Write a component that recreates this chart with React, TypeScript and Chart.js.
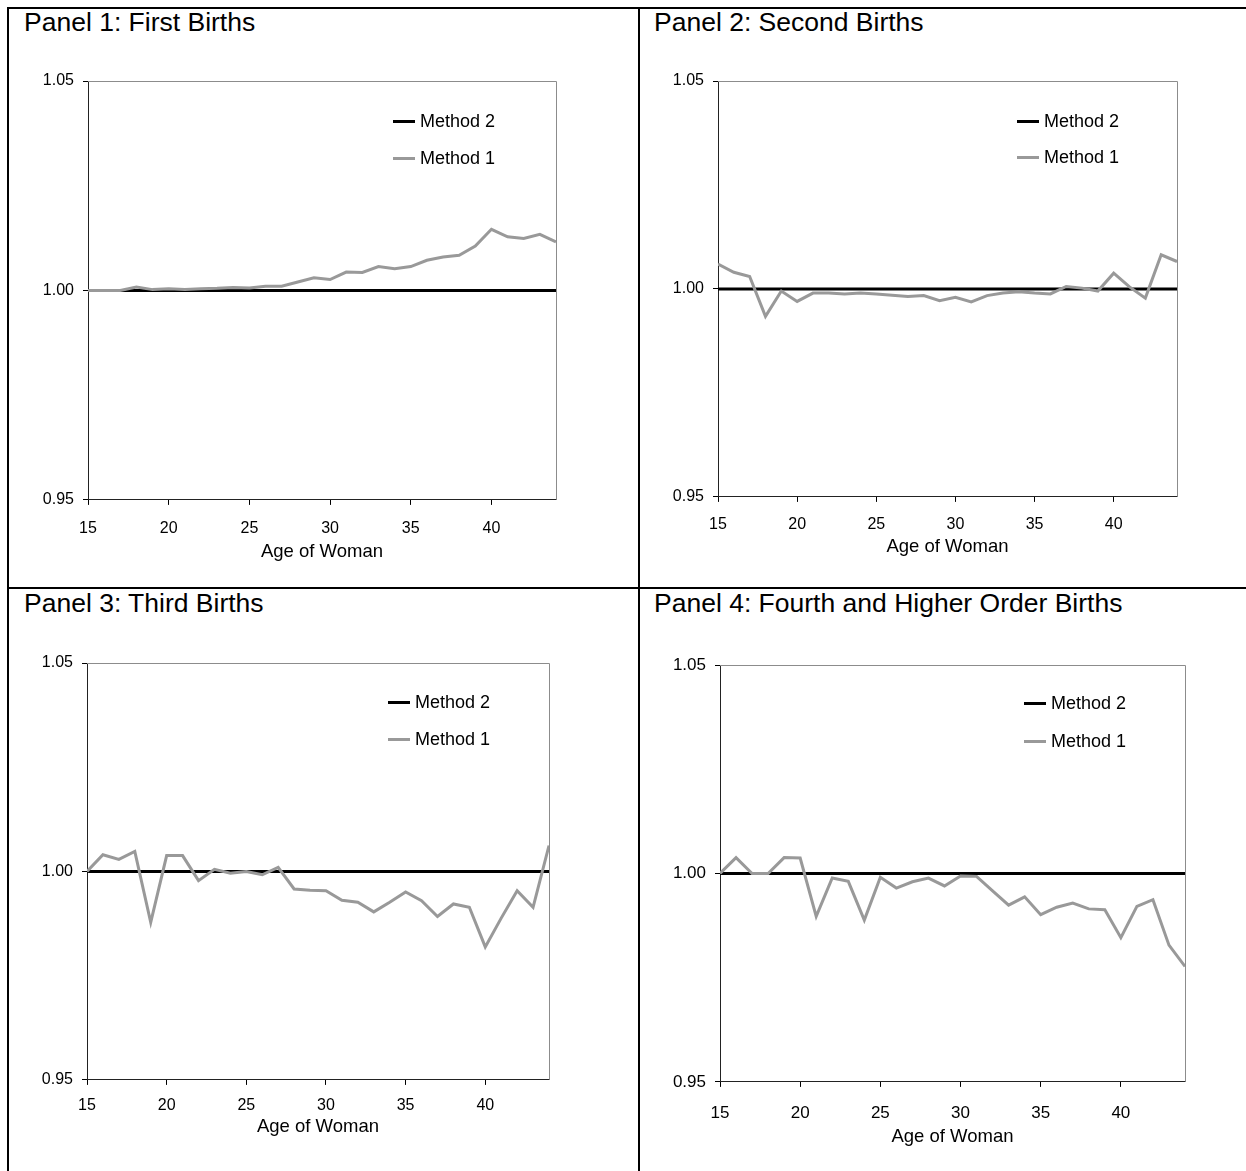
import React, { useEffect, useRef } from "react";
import { Chart, registerables } from "chart.js";

Chart.register(...registerables);

// ---------------- DATA ----------------
const ages = [15, 16, 17, 18, 19, 20, 21, 22, 23, 24, 25, 26, 27, 28, 29, 30, 31, 32, 33, 34, 35, 36, 37, 38, 39, 40, 41, 42, 43, 44];
const xTicks = [15, 20, 25, 30, 35, 40];
const yTicks = [0.95, 1.0, 1.05];
const legendLabels = ["Method 2", "Method 1"];
const xAxisTitle = "Age of Woman";
const panelTitles = [
  "Panel 1: First Births",
  "Panel 2: Second Births",
  "Panel 3: Third Births",
  "Panel 4: Fourth and Higher Order Births",
];

const method2 = [1.0, 1.0, 1.0, 1.0, 1.0, 1.0, 1.0, 1.0, 1.0, 1.0, 1.0, 1.0, 1.0, 1.0, 1.0, 1.0, 1.0, 1.0, 1.0, 1.0, 1.0, 1.0, 1.0, 1.0, 1.0, 1.0, 1.0, 1.0, 1.0, 1.0];

const firstBirthsMethod1 = [1.0, 1.0, 1.0, 1.0008, 1.0002, 1.0004, 1.0002, 1.0004, 1.0005, 1.0007, 1.0006, 1.001, 1.001, 1.002, 1.003, 1.0026, 1.0044, 1.0043, 1.0057, 1.0052, 1.0057, 1.0072, 1.008, 1.0084, 1.0106, 1.0146, 1.0128, 1.0124, 1.0134, 1.0116];

const secondBirthsMethod1 = [1.006, 1.004, 1.003, 0.9934, 0.9995, 0.997, 0.999, 0.999, 0.9988, 0.999, 0.9988, 0.9985, 0.9982, 0.9984, 0.9972, 0.998, 0.9969, 0.9984, 0.999, 0.9993, 0.999, 0.9988, 1.0006, 1.0002, 0.9995, 1.0038, 1.0005, 0.9978, 1.0082, 1.0066];

const thirdBirthsMethod1 = [1.0, 1.004, 1.0029, 1.0048, 0.9878, 1.0038, 1.0038, 0.9978, 1.0005, 0.9996, 1.0, 0.9992, 1.001, 0.9958, 0.9955, 0.9954, 0.9931, 0.9926, 0.9903, 0.9926, 0.9951, 0.993, 0.9892, 0.9922, 0.9914, 0.9819, 0.9888, 0.9954, 0.9914, 1.0062];

const fourthBirthsMethod1 = [1.0, 1.0038, 1.0, 1.0, 1.0038, 1.0037, 0.9897, 0.9989, 0.9981, 0.9888, 0.9991, 0.9965, 0.998, 0.9989, 0.997, 0.9994, 0.9993, 0.9958, 0.9924, 0.9944, 0.9901, 0.9919, 0.9929, 0.9915, 0.9913, 0.9846, 0.9921, 0.9937, 0.9828, 0.9777];

const method1Series = [firstBirthsMethod1, secondBirthsMethod1, thirdBirthsMethod1, fourthBirthsMethod1];

// ---------------- LAYOUT / STYLE ----------------
const FONT = "'Liberation Sans', Arial, Helvetica, sans-serif";
const TITLE_FONT = 26.5;
const LEGEND_FONT = 18;
const AXIS_TITLE_FONT = 18.5;
const METHOD1_COLOR = "#999999";
const METHOD2_COLOR = "#000000";

type Layout = {
  title: { x: number; baseline: number };
  plot: { l: number; t: number; r: number; b: number };
  legend: { x: number; y: number; gap: number };
  xTitleY: number;
  xLabelY: number;
  tickFont: number;
};

const layouts: Layout[] = [
  { title: { x: 24, baseline: 32 }, plot: { l: 88, t: 81, r: 556, b: 500 }, legend: { x: 393, y: 121, gap: 37 }, xTitleY: 552, xLabelY: 529, tickFont: 16 },
  { title: { x: 654, baseline: 32 }, plot: { l: 718, t: 81, r: 1177, b: 497 }, legend: { x: 1017, y: 121, gap: 36 }, xTitleY: 547, xLabelY: 525, tickFont: 16 },
  { title: { x: 24, baseline: 613 }, plot: { l: 87, t: 663, r: 549, b: 1080 }, legend: { x: 388, y: 702, gap: 37 }, xTitleY: 1127, xLabelY: 1106, tickFont: 16 },
  { title: { x: 654, baseline: 613 }, plot: { l: 720, t: 665, r: 1185, b: 1082 }, legend: { x: 1024, y: 703, gap: 38 }, xTitleY: 1137, xLabelY: 1113, tickFont: 17 },
];

const framePlugin = {
  id: "frameTopRight",
  beforeDatasetsDraw(chart: any) {
    const { ctx, chartArea } = chart;
    const { left, top, right, bottom } = chartArea;
    ctx.save();
    ctx.strokeStyle = "#8c8c8c";
    ctx.lineWidth = 1;
    ctx.beginPath();
    ctx.moveTo(left, top + 0.5);
    ctx.lineTo(right + 0.5, top + 0.5);
    ctx.lineTo(right + 0.5, bottom);
    ctx.stroke();
    ctx.restore();
  },
};

const LEFT_W = 80;
const PAD_T = 30;
const PAD_R = 12;
const PAD_B = 10;
const TICK_LEN = 5;

function Panel({ index }: { index: number }) {
  const ref = useRef<HTMLCanvasElement | null>(null);
  const lay = layouts[index];
  const lh = AXIS_TITLE_FONT * 1.2;
  const xAxisH = lay.xTitleY - lay.plot.b + lh / 2;
  const plotH = lay.plot.b - lay.plot.t;
  const canvasLeft = lay.plot.l - LEFT_W;
  const canvasTop = lay.plot.t - PAD_T;
  const cw = lay.plot.r - lay.plot.l + LEFT_W + PAD_R;
  const ch = plotH + PAD_T + xAxisH + PAD_B;
  const tickLh = lay.tickFont * 1.2;
  const xTickPad = lay.xLabelY - lay.plot.b - TICK_LEN - tickLh / 2;

  useEffect(() => {
    if (!ref.current) return;
    const chart = new Chart(ref.current, {
      type: "line",
      data: {
        datasets: [
          {
            label: legendLabels[1],
            data: ages.map((a, i) => ({ x: a, y: method1Series[index][i] })),
            borderColor: METHOD1_COLOR,
            backgroundColor: METHOD1_COLOR,
            borderWidth: 3,
            pointRadius: 0,
            tension: 0,
            fill: false,
          },
          {
            label: legendLabels[0],
            data: ages.map((a, i) => ({ x: a, y: method2[i] })),
            borderColor: METHOD2_COLOR,
            backgroundColor: METHOD2_COLOR,
            borderWidth: 3,
            pointRadius: 0,
            tension: 0,
            fill: false,
          },
        ],
      },
      options: {
        animation: false,
        responsive: false,
        devicePixelRatio: 1,
        layout: { padding: { left: 0, top: PAD_T, right: PAD_R, bottom: PAD_B } },
        plugins: { legend: { display: false }, tooltip: { enabled: false }, title: { display: false } },
        scales: {
          x: {
            type: "linear",
            min: 15,
            max: 44,
            afterBuildTicks: (scale: any) => {
              scale.ticks = xTicks.map((v) => ({ value: v }));
            },
            afterFit: (scale: any) => {
              scale.height = xAxisH;
            },
            ticks: {
              color: "#000",
              font: { family: FONT, size: lay.tickFont },
              padding: xTickPad,
              maxRotation: 0,
              autoSkip: false,
              callback: (v: any) => String(v),
            },
            grid: { display: true, drawOnChartArea: false, drawTicks: true, tickLength: TICK_LEN, color: "#000", lineWidth: 1 },
            border: { display: true, color: "#222", width: 1 },
            title: { display: true, text: xAxisTitle, color: "#000", font: { family: FONT, size: AXIS_TITLE_FONT }, padding: 0 },
          },
          y: {
            type: "linear",
            min: 0.95,
            max: 1.05,
            afterBuildTicks: (scale: any) => {
              scale.ticks = yTicks.map((v) => ({ value: v }));
            },
            afterFit: (scale: any) => {
              scale.width = LEFT_W;
            },
            ticks: {
              color: "#000",
              font: { family: FONT, size: lay.tickFont },
              padding: 9,
              callback: (v: any) => Number(v).toFixed(2),
            },
            grid: { display: true, drawOnChartArea: false, drawTicks: true, tickLength: TICK_LEN, color: "#000", lineWidth: 1 },
            border: { display: true, color: "#222", width: 1 },
          },
        },
      },
      plugins: [framePlugin],
    });

    // Align the chart area with the intended plot rectangle.
    for (let k = 0; k < 2; k++) {
      const ca = chart.chartArea;
      const dTop = ca.top - PAD_T;
      const dBottom = ca.bottom - (PAD_T + plotH);
      if (Math.abs(dTop) < 0.5 && Math.abs(dBottom) < 0.5) break;
      const pad: any = (chart.options.layout as any).padding;
      (chart.options.layout as any).padding = {
        left: 0,
        right: PAD_R,
        top: pad.top - dTop,
        bottom: pad.bottom + dBottom,
      };
      chart.update();
    }
    return () => chart.destroy();
  }, [index]);

  const titleLh = Math.round(TITLE_FONT + 4);
  const titleTop = lay.title.baseline - ((titleLh - TITLE_FONT * 1.117) / 2 + TITLE_FONT * 0.905);

  return (
    <>
      <div
        style={{
          position: "absolute",
          left: lay.title.x,
          top: titleTop,
          fontFamily: FONT,
          fontSize: TITLE_FONT,
          lineHeight: `${titleLh}px`,
          color: "#000",
          whiteSpace: "nowrap",
        }}
      >
        {panelTitles[index]}
      </div>
      <canvas
        ref={ref}
        width={cw}
        height={ch}
        style={{ position: "absolute", left: canvasLeft, top: canvasTop, width: cw, height: ch }}
      />
      {legendLabels.map((lbl, k) => {
        const y = lay.legend.y + k * lay.legend.gap;
        const color = k === 0 ? METHOD2_COLOR : METHOD1_COLOR;
        return (
          <React.Fragment key={lbl}>
            <div style={{ position: "absolute", left: lay.legend.x, top: y - 1.5, width: 22, height: 3, background: color }} />
            <div
              style={{
                position: "absolute",
                left: lay.legend.x + 27,
                top: y - 10,
                fontFamily: FONT,
                fontSize: LEGEND_FONT,
                lineHeight: "20px",
                color: "#000",
                whiteSpace: "nowrap",
              }}
            >
              {lbl}
            </div>
          </React.Fragment>
        );
      })}
    </>
  );
}

export default function App() {
  const line = (s: React.CSSProperties) => <div style={{ position: "absolute", background: "#000", ...s }} />;
  return (
    <div style={{ position: "fixed", left: 0, top: 0, width: 1246, height: 1171, overflow: "hidden", background: "#fff" }}>
      {line({ left: 7, top: 7, width: 1260, height: 2 })}
      {line({ left: 7, top: 7, width: 2, height: 1200 })}
      {line({ left: 638, top: 7, width: 2, height: 1200 })}
      {line({ left: 7, top: 587, width: 1260, height: 2 })}
      {[0, 1, 2, 3].map((i) => (
        <Panel key={i} index={i} />
      ))}
    </div>
  );
}
